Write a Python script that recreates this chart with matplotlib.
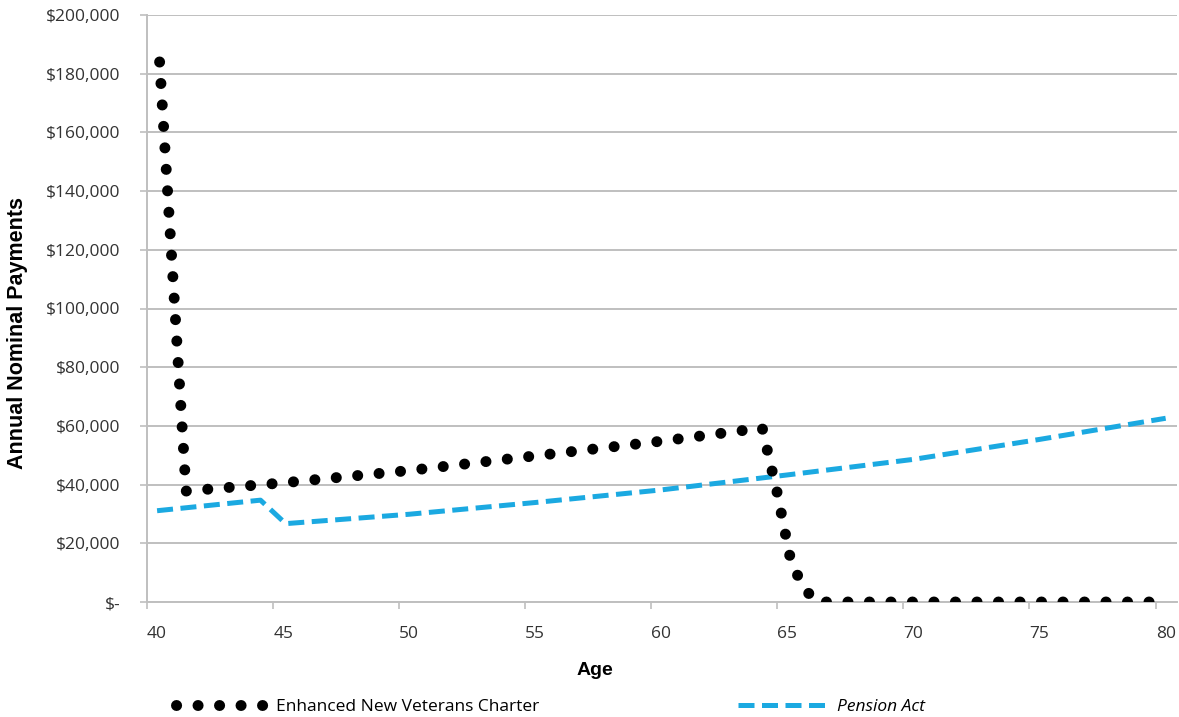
import matplotlib
matplotlib.use("Agg")
import matplotlib.pyplot as plt
from matplotlib.ticker import FuncFormatter, FixedLocator

# ---- data ------------------------------------------------------------------
# Enhanced New Veterans Charter (annual nominal payments, $)
nvc_age = [40.1, 41.15, 45, 50, 55, 60, 64.0, 64.3, 64.6, 64.9, 65.1, 65.35, 65.65, 66.15, 80.0]
nvc_pay = [184000, 37800, 40600, 44800, 49800, 54800, 59300, 48000, 37000,
           24000, 15500, 10000, 4800, 0, 0]
# Pension Act
pa_age = [40, 44.1, 45.1, 50, 55, 60, 65, 70, 75, 80]
pa_pay = [31100, 34700, 26700, 29900, 33900, 38200, 43300, 48600, 55400, 62600]

yticks = list(range(0, 200001, 20000))
xticks = list(range(40, 81, 5))

C_NVC = "black"
C_PA = "#1BA9E1"
C_GRID = "#BFBFBF"
C_TXT = "#333333"

fig = plt.figure(figsize=(11.79, 7.17), dpi=100)
ax = fig.add_axes([147/1179, 115/717, 1030/1179, 587/717])

ax.plot(nvc_age, nvc_pay, color=C_NVC, lw=7.9, linestyle=(0, (0.01, 1.95)),
        dash_capstyle="round", label="Enhanced New Veterans Charter", zorder=3)
ax.plot(pa_age, pa_pay, color=C_PA, lw=3.6, linestyle=(0, (3.2, 1.5)),
        dash_capstyle="butt", label="Pension Act", zorder=2)

ax.set_xlim(39.6, 80.45)
ax.set_ylim(0, 200000)

# y axis
ax.set_yticks(yticks)
ax.yaxis.set_major_formatter(FuncFormatter(lambda v, p: "$-" if v == 0 else f"${v:,.0f}"))
ax.grid(axis="y", color=C_GRID, lw=1.4)
ax.set_axisbelow(True)
ax.tick_params(axis="y", length=5, width=1.2, color=C_GRID, pad=14,
               labelsize=12.5, labelcolor=C_TXT)
for t in ax.get_yticklabels():
    t.set_family("Open Sans")

# x axis: labels at whole ages, tick marks offset like the category axis
ax.set_xticks(xticks)
ax.xaxis.set_minor_locator(FixedLocator([x - 0.4 for x in xticks]))
ax.tick_params(axis="x", which="major", length=0, pad=17, labelsize=12.5, labelcolor=C_TXT)
ax.tick_params(axis="x", which="minor", length=5, width=1.2, color=C_GRID)
for t in ax.get_xticklabels():
    t.set_family("Open Sans")

for s in ["top", "right"]:
    ax.spines[s].set_visible(False)
for s in ["left", "bottom"]:
    ax.spines[s].set_color(C_GRID)
    ax.spines[s].set_linewidth(1.4)

ax.set_ylabel("Annual Nominal Payments", fontsize=15.5, fontweight="bold",
              family="Liberation Sans")
ax.yaxis.set_label_coords(-119/1030, (602 - 333) / 587)
ax.set_xlabel("Age", fontsize=14, fontweight="bold", family="Liberation Sans")
ax.xaxis.set_label_coords((595 - 147) / 1030, -60 / 587)

leg = fig.legend(loc="center left", bbox_to_anchor=(167/1179, 10/717), ncol=2,
                 frameon=False, handlelength=5.3, handletextpad=0.45,
                 columnspacing=11.45, borderpad=0,
                 prop={"family": "Open Sans", "size": 12.5})
leg.get_texts()[1].set_fontstyle("italic")

fig.savefig("out.png", dpi=100)
